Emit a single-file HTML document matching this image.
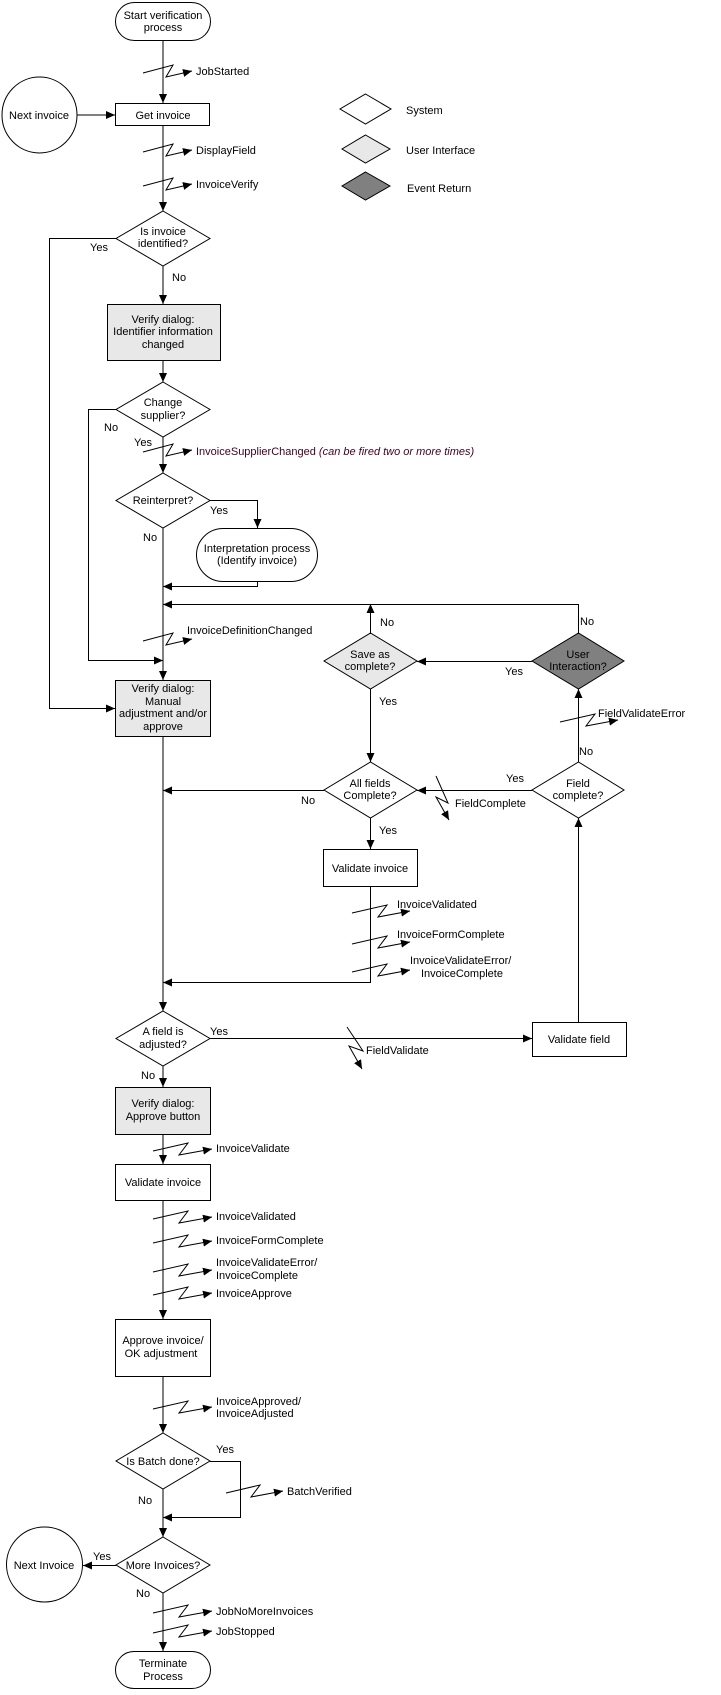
<!DOCTYPE html>
<html><head><meta charset="utf-8"><style>
html,body{margin:0;padding:0;background:#fff;}
svg{display:block;}
text{font-family:"Liberation Sans",sans-serif;font-size:11px;fill:#000;}
.c{text-anchor:middle;}
</style></head><body>
<svg width="721" height="1695" viewBox="0 0 721 1695" xmlns="http://www.w3.org/2000/svg">
<defs>
<marker id="a" markerUnits="userSpaceOnUse" markerWidth="10" markerHeight="8" refX="9" refY="4" orient="auto"><path d="M0,0 L9,4 L0,8 z" fill="#000"/></marker>
<g id="lz"><polyline points="-20,0 10,-8 3,4 29,-2" fill="none" stroke="#000" stroke-width="1" marker-end="url(#a)"/></g>
<g id="lzm"><polyline points="-18,0 17,-8 8,4 40,-2" fill="none" stroke="#000" stroke-width="1" marker-end="url(#a)"/></g>
<g id="lzb"><polyline points="-10,0 25,-8 16,4 49,-2" fill="none" stroke="#000" stroke-width="1" marker-end="url(#a)"/></g>
<g id="lzc"><polyline points="-14,0 20,-8 11,4 43,-2" fill="none" stroke="#000" stroke-width="1" marker-end="url(#a)"/></g>
</defs>
<g fill="none" stroke="#000" stroke-width="1">
<rect x="115.5" y="2.5" width="95" height="38" rx="19" fill="#fff"/>
<line x1="163" y1="41" x2="163" y2="103" marker-end="url(#a)"/>
<rect x="115.5" y="103.5" width="94" height="22" fill="#fff"/>
<ellipse cx="39.5" cy="115" rx="37.5" ry="38" fill="#fff"/>
<line x1="77" y1="115" x2="115" y2="115" marker-end="url(#a)"/>
<line x1="163" y1="126" x2="163" y2="211" marker-end="url(#a)"/>
<polygon points="163,211 210,238.5 163,266 116,238.5" fill="#fff"/>
<polyline points="116,238.5 49.5,238.5 49.5,708.5 115,708.5" marker-end="url(#a)"/>
<line x1="163" y1="266" x2="163" y2="304" marker-end="url(#a)"/>
<rect x="107.5" y="304.5" width="113" height="56" fill="#e8e8e8"/>
<line x1="163" y1="361" x2="163" y2="382" marker-end="url(#a)"/>
<polygon points="163,382 210,409.5 163,437 116,409.5" fill="#fff"/>
<polyline points="116,409.5 88.5,409.5 88.5,660.5 163,660.5" marker-end="url(#a)"/>
<line x1="163" y1="437" x2="163" y2="473" marker-end="url(#a)"/>
<polygon points="163,473 210,500.5 163,528 116,500.5" fill="#fff"/>
<polyline points="210,500.5 257.5,500.5 257.5,528" marker-end="url(#a)"/>
<rect x="196.5" y="528.5" width="121" height="53" rx="26.5" fill="#fff"/>
<polyline points="257.5,582 257.5,586.5 163,586.5" marker-end="url(#a)"/>
<line x1="163" y1="528" x2="163" y2="680" marker-end="url(#a)"/>
<polyline points="578.5,633 578.5,604.5 163,604.5" marker-end="url(#a)"/>
<line x1="370.5" y1="633" x2="370.5" y2="604" marker-end="url(#a)"/>
<rect x="115.5" y="680.5" width="95" height="56" fill="#e8e8e8"/>
<polygon points="370.5,633 417,661 370.5,689 324,661" fill="#e8e8e8"/>
<polygon points="578.5,633 624,661 578.5,689 532,661" fill="#808080"/>
<line x1="532" y1="661.5" x2="417" y2="661.5" marker-end="url(#a)"/>
<line x1="370.5" y1="689" x2="370.5" y2="762" marker-end="url(#a)"/>
<polygon points="370.5,762 417,790 370.5,818 324,790" fill="#fff"/>
<line x1="324" y1="790.5" x2="163" y2="790.5" marker-end="url(#a)"/>
<polygon points="578.5,762 624,790 578.5,818 532,790" fill="#fff"/>
<line x1="532" y1="790.5" x2="417" y2="790.5" marker-end="url(#a)"/>
<line x1="578.5" y1="762" x2="578.5" y2="689" marker-end="url(#a)"/>
<line x1="370.5" y1="818" x2="370.5" y2="849" marker-end="url(#a)"/>
<rect x="323.5" y="849.5" width="94" height="37" fill="#fff"/>
<polyline points="370.5,887 370.5,982.5 163,982.5" marker-end="url(#a)"/>
<line x1="163" y1="737" x2="163" y2="1011" marker-end="url(#a)"/>
<polygon points="163,1011 210,1038.5 163,1066 116,1038.5" fill="#fff"/>
<line x1="210" y1="1038.5" x2="532" y2="1038.5" marker-end="url(#a)"/>
<rect x="532.5" y="1022.5" width="94" height="34" fill="#fff"/>
<line x1="578.5" y1="1022" x2="578.5" y2="818" marker-end="url(#a)"/>
<line x1="163" y1="1066" x2="163" y2="1087" marker-end="url(#a)"/>
<rect x="115.5" y="1087.5" width="95" height="47" fill="#e8e8e8"/>
<line x1="163" y1="1135" x2="163" y2="1164" marker-end="url(#a)"/>
<rect x="115.5" y="1164.5" width="95" height="36" fill="#fff"/>
<line x1="163" y1="1201" x2="163" y2="1319" marker-end="url(#a)"/>
<rect x="115.5" y="1319.5" width="95" height="57" fill="#fff"/>
<line x1="163" y1="1377" x2="163" y2="1433" marker-end="url(#a)"/>
<polygon points="163,1433 210,1461 163,1489 116,1461" fill="#fff"/>
<polyline points="210,1461.5 240.5,1461.5 240.5,1517.5 163,1517.5" marker-end="url(#a)"/>
<line x1="163" y1="1489" x2="163" y2="1537" marker-end="url(#a)"/>
<polygon points="163,1537 210,1565 163,1593 116,1565" fill="#fff"/>
<line x1="116" y1="1565.5" x2="83" y2="1565.5" marker-end="url(#a)"/>
<ellipse cx="44.5" cy="1564.5" rx="38" ry="37.5" fill="#fff"/>
<line x1="163" y1="1593" x2="163" y2="1651" marker-end="url(#a)"/>
<rect x="115.5" y="1651.5" width="95" height="37" rx="18.5" fill="#fff"/>
<polygon points="365.5,94 391,109 365.5,124 340,109" fill="#fff"/>
<polygon points="365.5,135 390,149 365.5,163 342,149" fill="#e8e8e8"/>
<polygon points="365.5,172 390,186 365.5,200 342,186" fill="#808080"/>
<polyline points="436,776 448,803 436,797 449,820" marker-end="url(#a)"/>
<polyline points="347,1027 363,1051 349,1046 362,1069" marker-end="url(#a)"/>
</g>
<use href="#lz" x="163" y="73"/>
<use href="#lz" x="163" y="152"/>
<use href="#lz" x="163" y="186"/>
<use href="#lz" x="163" y="452"/>
<use href="#lz" x="163" y="641"/>
<use href="#lzm" x="578" y="722"/>
<use href="#lzm" x="370" y="913"/>
<use href="#lzm" x="370" y="944"/>
<use href="#lzm" x="370" y="972"/>
<use href="#lzb" x="163" y="1151"/>
<use href="#lzb" x="163" y="1219"/>
<use href="#lzb" x="163" y="1243"/>
<use href="#lzb" x="163" y="1272"/>
<use href="#lzb" x="163" y="1295"/>
<use href="#lzb" x="163" y="1409"/>
<use href="#lzc" x="240" y="1493"/>
<use href="#lzb" x="163" y="1613"/>
<use href="#lzb" x="163" y="1633"/>
<text class="c" x="163" y="19">Start  verification</text>
<text class="c" x="163" y="31">process</text>
<text x="196" y="75">JobStarted</text>
<text class="c" x="163" y="119">Get invoice</text>
<text class="c" x="39" y="119">Next invoice</text>
<text x="196" y="154">DisplayField</text>
<text x="196" y="188">InvoiceVerify</text>
<text class="c" x="163" y="235">Is invoice</text>
<text class="c" x="163" y="247">identified?</text>
<text x="90" y="251">Yes</text>
<text x="172" y="281">No</text>
<text class="c" x="163" y="323">Verify dialog:</text>
<text class="c" x="163" y="335">Identifier information</text>
<text class="c" x="163" y="348">changed</text>
<text class="c" x="163" y="406">Change</text>
<text class="c" x="163" y="419">supplier?</text>
<text x="104" y="431">No</text>
<text x="134" y="446">Yes</text>
<text x="196" y="455" style="fill:#400020">InvoiceSupplierChanged <tspan font-style="italic">(can be fired two or more times)</tspan></text>
<text class="c" x="163" y="504">Reinterpret?</text>
<text x="210" y="514">Yes</text>
<text x="143" y="541">No</text>
<text class="c" x="257" y="552">Interpretation process</text>
<text class="c" x="257" y="564">(Identify invoice)</text>
<text x="187" y="634">InvoiceDefinitionChanged</text>
<text x="380" y="626">No</text>
<text x="580" y="625">No</text>
<text class="c" x="370" y="658">Save as</text>
<text class="c" x="370" y="670">complete?</text>
<text class="c" x="578" y="658">User</text>
<text class="c" x="578" y="670">Interaction?</text>
<text x="505" y="675">Yes</text>
<text class="c" x="163" y="692">Verify dialog:</text>
<text class="c" x="163" y="705">Manual</text>
<text class="c" x="163" y="717">adjustment and/or</text>
<text class="c" x="163" y="730">approve</text>
<text x="379" y="705">Yes</text>
<text x="598" y="717">FieldValidateError</text>
<text x="579" y="755">No</text>
<text x="506" y="782">Yes</text>
<text class="c" x="370" y="787">All fields</text>
<text class="c" x="370" y="799">Complete?</text>
<text class="c" x="578" y="787">Field</text>
<text class="c" x="578" y="799">complete?</text>
<text x="301" y="804">No</text>
<text x="455" y="807">FieldComplete</text>
<text x="379" y="834">Yes</text>
<text class="c" x="370" y="872">Validate invoice</text>
<text x="397" y="908">InvoiceValidated</text>
<text x="397" y="938">InvoiceFormComplete</text>
<text x="410" y="964">InvoiceValidateError/</text>
<text x="421" y="977">InvoiceComplete</text>
<text class="c" x="163" y="1035">A field is</text>
<text class="c" x="163" y="1048">adjusted?</text>
<text x="210" y="1035">Yes</text>
<text x="366" y="1054">FieldValidate</text>
<text class="c" x="579" y="1043">Validate field</text>
<text x="141" y="1079">No</text>
<text class="c" x="163" y="1107">Verify dialog:</text>
<text class="c" x="163" y="1120">Approve button</text>
<text x="216" y="1152">InvoiceValidate</text>
<text class="c" x="163" y="1186">Validate invoice</text>
<text x="216" y="1220">InvoiceValidated</text>
<text x="216" y="1244">InvoiceFormComplete</text>
<text x="216" y="1266">InvoiceValidateError/</text>
<text x="216" y="1279">InvoiceComplete</text>
<text x="216" y="1297">InvoiceApprove</text>
<text class="c" x="163" y="1344">Approve invoice/</text>
<text class="c" x="161" y="1357">OK adjustment</text>
<text x="216" y="1405">InvoiceApproved/</text>
<text x="216" y="1417">InvoiceAdjusted</text>
<text class="c" x="163" y="1465">Is Batch done?</text>
<text x="216" y="1453">Yes</text>
<text x="287" y="1495">BatchVerified</text>
<text x="138" y="1504">No</text>
<text class="c" x="163" y="1569">More Invoices?</text>
<text x="93" y="1560">Yes</text>
<text class="c" x="44" y="1569">Next Invoice</text>
<text x="136" y="1597">No</text>
<text x="216" y="1615">JobNoMoreInvoices</text>
<text x="216" y="1635">JobStopped</text>
<text class="c" x="163" y="1667">Terminate</text>
<text class="c" x="163" y="1680">Process</text>
<text x="406" y="114">System</text>
<text x="406" y="154">User Interface</text>
<text x="407" y="192">Event Return</text>
</svg>
</body></html>
